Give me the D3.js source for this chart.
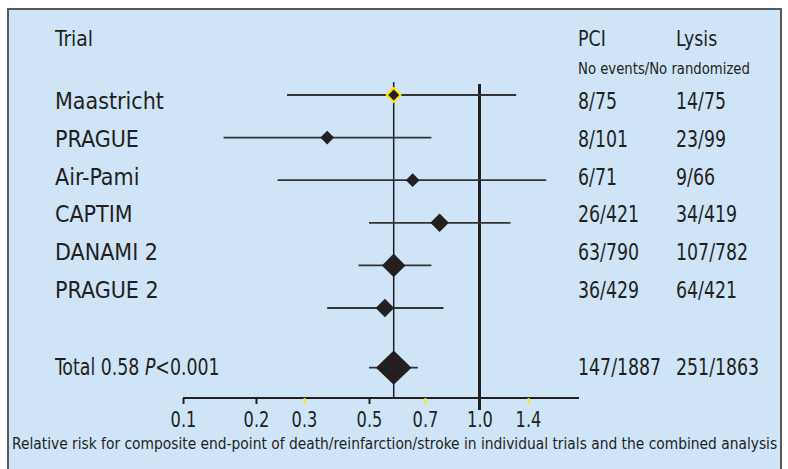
<!DOCTYPE html>
<html><head><meta charset="utf-8">
<script src="https://cdn.jsdelivr.net/npm/d3@7"></script>
<style>body{margin:0;background:#fff}svg{display:block}</style></head>
<body><svg id="c" width="788" height="469"></svg>
<script>
const trials = ["Maastricht","PRAGUE","Air-Pami","CAPTIM","DANAMI 2","PRAGUE 2"];
const rr     = [0.58, 0.36, 0.65, 0.77, 0.58, 0.55];
const lo     = [0.26, 0.147, 0.24, 0.50, 0.46, 0.36];
const hi     = [1.29, 0.73, 1.59, 1.24, 0.73, 0.79];
const weight = [15, 15, 15, 27, 44, 27];
const pci    = ["8/75","8/101","6/71","26/421","63/790","36/429"];
const lysis  = ["14/75","23/99","9/66","34/419","107/782","64/421"];
const totalRR = 0.58, totalLo = 0.50, totalHi = 0.67, totalWeight = 100;
const totalPci = "147/1887", totalLysis = "251/1863";
const tickValues = [0.1, 0.2, 0.3, 0.5, 0.7, 1.0, 1.4];
const tickLabels = ["0.1","0.2","0.3","0.5","0.7","1.0","1.4"];
const yellowTicks = [0.3, 0.7, 1.4];

const FONT = "'DejaVu Sans Condensed','Liberation Sans',sans-serif";
const INK = "#231f20";
const svg = d3.select("#c");

svg.append("rect").attr("x",8).attr("y",9).attr("width",773).attr("height",475)
  .attr("fill","#cfe4f7").attr("stroke","#58595b").attr("stroke-width",2);

// piecewise log scale matching the printed axis
const x = d3.scaleLog()
  .domain([0.1,0.2,0.3,0.5,0.7,1.0,1.4,2.0])
  .range([183,256,304,369,425,479.5,528,579]);
const markY = d3.scaleLinear().domain([0,5]).range([95,308]);
const textY = d3.scaleLinear().domain([0,5]).range([101,290]);
const size = d3.scaleSqrt().domain([0,100]).range([0,17.8]);
const axisY = 398;

// reference lines
svg.append("line").attr("x1",x(totalRR)).attr("x2",x(totalRR)).attr("y1",82).attr("y2",axisY)
  .attr("stroke",INK).attr("stroke-width",1.5);
svg.append("line").attr("x1",x(1)).attr("x2",x(1)).attr("y1",84).attr("y2",410)
  .attr("stroke",INK).attr("stroke-width",3);

// axis
const axis = d3.axisBottom(x).tickValues(tickValues).tickSize(6).tickSizeOuter(0)
  .tickFormat((d,i)=>tickLabels[i]);
const ag = svg.append("g").attr("transform",`translate(0,${axisY})`).call(axis);
ag.select(".domain").attr("stroke",INK).attr("stroke-width",2)
  .attr("d",`M${x(0.1)},0H${x(2.0)}`);
ag.selectAll(".tick line").attr("stroke",d=>yellowTicks.includes(d)?"#ffe600":INK)
  .attr("stroke-width",2).attr("y1",0);
ag.selectAll(".tick text").attr("font-family",FONT).attr("font-size",22).attr("fill",INK)
  .attr("y",0).attr("dy",0)
  .attr("transform",`translate(0,29) scale(0.82,1)`);

const diamond = (cx,cy,w,h)=>`M${cx},${cy-h}L${cx+w},${cy}L${cx},${cy+h}L${cx-w},${cy}Z`;

// trial rows
const g = svg.append("g");
trials.forEach((t,i)=>{
  g.append("line").attr("x1",x(lo[i])).attr("x2",x(hi[i])).attr("y1",markY(i)).attr("y2",markY(i))
    .attr("stroke","#333").attr("stroke-width",1.8);
  const s = size(weight[i]);
  g.append("path").attr("d",diamond(x(rr[i]),markY(i),s,s)).attr("fill",INK)
    .attr("stroke", i===0 ? "#ffe600" : "none").attr("stroke-width",2);
});
// total
const ty = markY(6.4);
g.append("line").attr("x1",x(totalLo)).attr("x2",x(totalHi)).attr("y1",ty).attr("y2",ty)
  .attr("stroke","#333").attr("stroke-width",1.8);
g.append("path").attr("d",diamond(x(totalRR),ty,size(totalWeight),size(totalWeight)*0.96)).attr("fill",INK);

// text helper with horizontal compression
const txt = (s,xx,yy,fs,sx)=>svg.append("text")
  .attr("transform",`translate(${xx},${yy}) scale(${sx||1},1)`).attr("dy","0.35em")
  .attr("font-family",FONT).attr("font-size",fs).attr("fill",INK).text(s);
txt("Trial",55,38,22,0.95);
txt("PCI",578,38,22,0.88);
txt("Lysis",676,38,22,0.88);
txt("No events/No randomized",578,68,16,0.92);
trials.forEach((t,i)=>{
  txt(t,55,textY(i),23,1.0);
  txt(pci[i],578,textY(i),23,0.84);
  txt(lysis[i],676,textY(i),23,0.84);
});
const tt = svg.append("text").attr("transform",`translate(55,367) scale(0.84,1)`).attr("dy","0.35em")
  .attr("font-family",FONT).attr("font-size",23).attr("fill",INK);
tt.append("tspan").text("Total 0.58 ");
tt.append("tspan").attr("font-style","italic").text("P");
tt.append("tspan").text("<0.001");
txt(totalPci,578,367,23,0.84);
txt(totalLysis,676,367,23,0.84);
const cap = txt("Relative risk for composite end-point of death/reinfarction/stroke in individual trials and the combined analysis",12,443,16,1);
const natural = cap.node().getComputedTextLength();
cap.attr("transform",`translate(12,443) scale(${766/natural},1)`);
</script></body></html>
